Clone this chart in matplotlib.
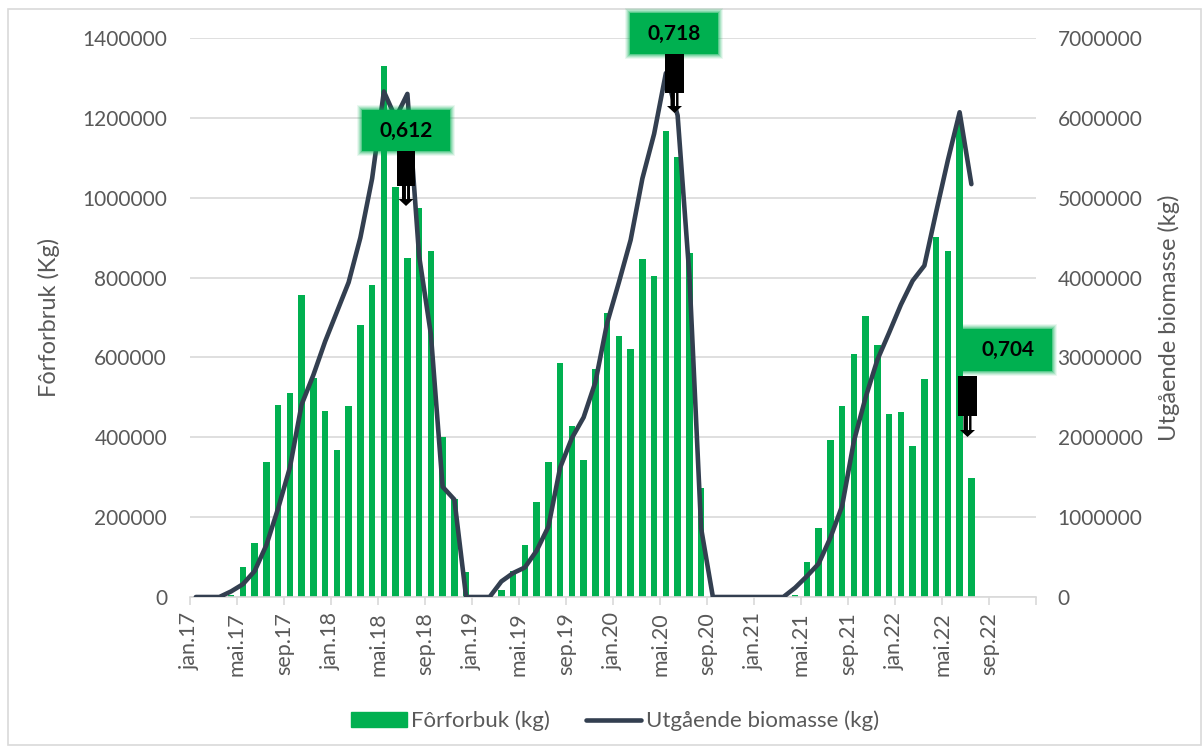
import numpy as np
import matplotlib
matplotlib.use("Agg")
import matplotlib.pyplot as plt
from matplotlib.patches import Rectangle, Polygon, Patch
from matplotlib.lines import Line2D
from matplotlib.ticker import FuncFormatter
from matplotlib.transforms import Affine2D

plt.rcParams['font.family'] = ['Lato', 'DejaVu Sans']

# monthly values, jan.17 -> jul.22
feed = [0, 0, 0, 6000, 75000, 136000, 337000, 480000, 512000, 756000, 548000, 465000,
        368000, 478000, 680000, 781000, 1331000, 1027000, 849000, 973000, 867000, 400000, 245000, 62000,
        0, 0, 18000, 65000, 131000, 237000, 337000, 585000, 429000, 342000, 570000, 712000,
        653000, 620000, 847000, 804000, 1168000, 1101000, 862000, 274000, 0, 0, 0, 0,
        0, 0, 0, 4000, 87000, 172000, 393000, 478000, 608000, 703000, 632000, 459000,
        463000, 378000, 546000, 902000, 867000, 1192000, 298000]
biomass = [0, 0, 0, 70000, 160000, 325000, 650000, 1110000, 1620000, 2410000, 2780000, 3200000,
           3570000, 3940000, 4500000, 5240000, 6330000, 6000000, 6300000, 4270000, 3290000, 1380000, 1220000, 0,
           0, 0, 195000, 300000, 370000, 580000, 880000, 1620000, 1990000, 2250000, 2690000, 3430000,
           3940000, 4470000, 5240000, 5800000, 6560000, 6030000, 4030000, 860000, 0, 0, 0, 0,
           0, 0, 0, 116000, 260000, 417000, 742000, 1140000, 1950000, 2500000, 2970000, 3310000,
           3660000, 3960000, 4150000, 4820000, 5470000, 6070000, 5170000]
tick_labels = ['jan.17', 'mai.17', 'sep.17', 'jan.18', 'mai.18', 'sep.18',
               'jan.19', 'mai.19', 'sep.19', 'jan.20', 'mai.20', 'sep.20',
               'jan.21', 'mai.21', 'sep.21', 'jan.22', 'mai.22', 'sep.22']
ratios = ['0,612', '0,718', '0,704']

GREEN = '#00B050'
NAVY = '#333F50'
GREY = '#595959'
GRID = '#D9D9D9'
W, H = 1202, 749

fig = plt.figure(figsize=(W / 100, H / 100), dpi=100)
ax = fig.add_axes([190 / W, 1 - 597 / H, 846 / W, 559 / H])
ax2 = ax.twinx()

x = np.arange(len(feed)) + 0.5
ax.bar(x, feed, width=0.56, color=GREEN, zorder=2)
ax2.plot(x, biomass, color=NAVY, lw=3.3, solid_joinstyle='round', solid_capstyle='round')

ax.set_xlim(0, 72)
ax.set_ylim(0, 1400000)
ax2.set_ylim(0, 7000000)
ax.set_yticks(np.arange(0, 1400001, 200000))
ax2.set_yticks(np.arange(0, 7000001, 1000000))
plain = FuncFormatter(lambda v, p: f'{v:.0f}')
ax.yaxis.set_major_formatter(plain)
ax2.yaxis.set_major_formatter(plain)
ax.set_xticks(np.arange(0, 73, 4))
ax.set_xticklabels(tick_labels + [''], rotation=90)

for a in (ax, ax2):
    for s in a.spines.values():
        s.set_visible(False)
ax.spines['bottom'].set_visible(True)
ax.spines['bottom'].set_color(GRID)
ax.spines['bottom'].set_linewidth(1.2)
ax.grid(axis='y', color=GRID, lw=1.2, zorder=0)
ax.set_axisbelow(True)

ax.tick_params(axis='y', length=0, pad=16.5, labelsize=15, labelcolor=GREY)
ax2.tick_params(axis='y', length=0, pad=15.5, labelsize=15, labelcolor=GREY)
ax.tick_params(axis='x', length=6, width=1.2, color=GRID, pad=5, labelsize=15.5, labelcolor=GREY)

ax.set_ylabel('Fôrforbruk (Kg)', fontsize=17, color=GREY, labelpad=16)
ax2.set_ylabel('Utgående biomasse (kg)', fontsize=17, color=GREY, labelpad=11)

# pixel coordinates (origin top-left) for the callout shapes
px = Affine2D().scale(1 / W, -1 / H).translate(0, 1) + fig.transFigure


def glow_box(x0, y0, x1, y1, text):
    for k, a in [(5, 0.08), (4, 0.12), (3, 0.16), (2, 0.22), (1, 0.35)]:
        fig.add_artist(Rectangle((x0 - k, y0 - k), x1 - x0 + 2 * k, y1 - y0 + 2 * k,
                                 transform=px, color=GREEN, alpha=a, lw=0, zorder=5))
    fig.add_artist(Rectangle((x0, y0), x1 - x0, y1 - y0, transform=px,
                             color=GREEN, lw=0, zorder=6))
    fig.text((x0 + x1) / 2 / W, 1 - (y0 + y1) / 2 / H, text, ha='center', va='center',
             fontsize=15, fontweight='bold', color='black', zorder=7)


def pointer(x0, x1, y0, y1, tip):
    fig.add_artist(Rectangle((x0, y0), x1 - x0, y1 - y0, transform=px,
                             color='black', lw=0, zorder=6))
    cx = (x0 + x1) / 2
    pts = [(cx - 4, y1), (cx + 4, y1), (cx + 4, tip - 7), (cx + 7.5, tip - 7),
           (cx, tip), (cx - 7.5, tip - 7), (cx - 4, tip - 7)]
    fig.add_artist(Polygon(pts, closed=True, transform=px, color='black', lw=0, zorder=6))
    fig.add_artist(Line2D([cx, cx], [y1, tip - 8], transform=px, color='white', lw=0.8, zorder=7))


glow_box(362, 110, 450, 151, ratios[0])
pointer(397, 415, 151, 186, 206)
glow_box(630, 13, 718, 54, ratios[1])
pointer(665, 684, 54, 93, 113)
glow_box(963, 329, 1052, 371, ratios[2])
pointer(958, 977, 376, 416, 437)

handles = [Patch(color=GREEN), Line2D([], [], color=NAVY, lw=3.3, solid_capstyle='round')]
fig.legend(handles, ['Fôrforbuk (kg)', 'Utgående biomasse (kg)'], loc='center',
           bbox_to_anchor=(615 / W, 1 - 721 / H), ncol=2, frameon=False, fontsize=16,
           handlelength=2.5, handletextpad=0.2, columnspacing=1.6, labelcolor=GREY)

fig.add_artist(Rectangle((8, 9), W - 9, H - 13, transform=px, fill=False,
                         edgecolor=GRID, lw=1.2, zorder=1))

fig.savefig('out.png', dpi=100)
